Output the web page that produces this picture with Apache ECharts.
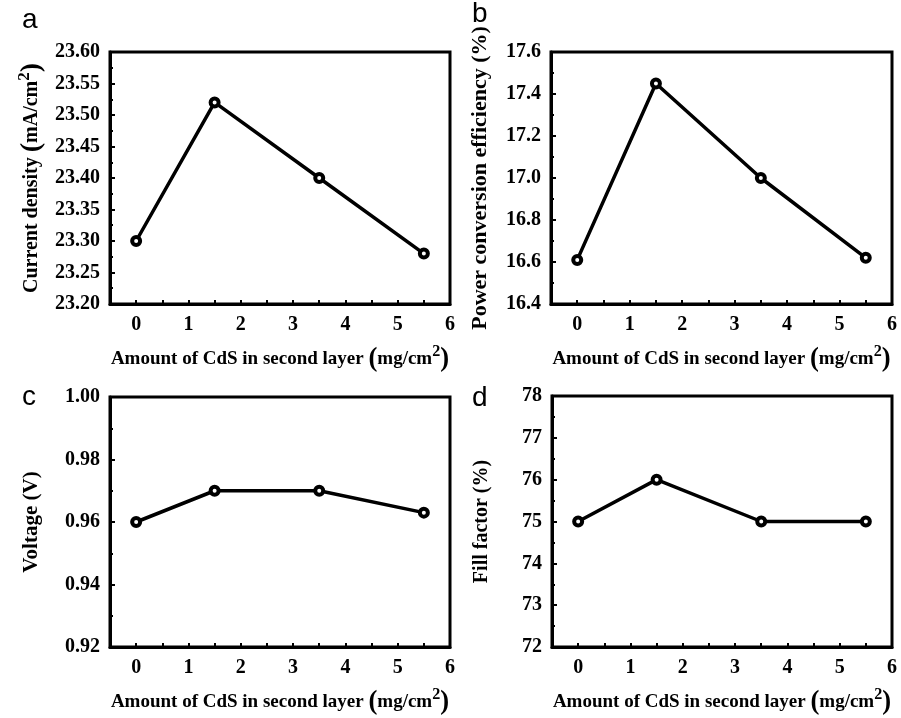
<!DOCTYPE html>
<html style="height: 100%">
<head>
<meta charset="utf-8">
<script src="https://cdn.jsdelivr.net/npm/echarts@6/dist/echarts.min.js"></script>
</head>
<body style="height: 100%; margin: 0; background: #fff">
<div id="container" style="width: 901px; height: 718px"></div>
<script type="text/javascript">
// amount of CdS in second layer (mg/cm2)
var amount = [0, 1.5, 3.5, 5.5];
var currentDensity = [23.30, 23.52, 23.40, 23.28];
var efficiency = [16.61, 17.45, 17.00, 16.62];
var voltage = [0.960, 0.970, 0.970, 0.963];
var fillFactor = [75, 76, 75, 75];

var serif = '"Liberation Serif", "Times New Roman", serif';

function pairs(ys) {
    return amount.map(function (x, i) { return [x, ys[i]]; });
}

var grids = [
    {left: 110, top: 52, width: 340, height: 252},
    {left: 551, top: 52, width: 341, height: 252},
    {left: 110, top: 397, width: 340, height: 250},
    {left: 552, top: 396, width: 340, height: 251}
];

function rich(size) {
    return {
        n: {fontFamily: serif, fontWeight: 'bold', fontSize: size, color: '#000'},
        p: {fontFamily: serif, fontWeight: 'bold', fontSize: size * 1.4, color: '#000'},
        s: {fontFamily: serif, fontWeight: 'bold', fontSize: size * 0.85, color: '#000', padding: [0, 0, size * 0.75, 0]}
    };
}

var xName = '{n|Amount of CdS in second layer }{p|(}{n|mg/cm}{s|2}{p|)}';

function xAxis(i) {
    return {
        type: 'value', gridIndex: i, min: -0.5, max: 6, interval: 0.5,
        name: xName, nameLocation: 'middle', nameGap: 40,
        nameTextStyle: {rich: rich(19)},
        axisLine: {onZero: false, lineStyle: {color: '#000', width: 3}},
        axisTick: {inside: true, length: 4, lineStyle: {color: '#000', width: 2}},
        axisLabel: {
            margin: 11, color: '#000', fontFamily: serif, fontWeight: 'bold', fontSize: 20,
            formatter: function (v) { return (v >= 0 && v % 1 === 0) ? String(v) : ''; }
        },
        splitLine: {show: false}
    };
}

function yAxis(i, min, max, step, digits, name, gap, size) {
    return {
        type: 'value', gridIndex: i, min: min, max: max, interval: step,
        name: name, nameLocation: 'middle', nameGap: gap, nameRotate: 90,
        nameTextStyle: {rich: rich(size)},
        axisLine: {onZero: false, lineStyle: {color: '#000', width: 3}},
        axisTick: {inside: true, length: 5, lineStyle: {color: '#000', width: 2}},
        minorTick: {show: true, splitNumber: 2, length: 3, lineStyle: {color: '#000', width: 2}},
        axisLabel: {
            margin: 10, color: '#000', fontFamily: serif, fontWeight: 'bold', fontSize: 20,
            formatter: function (v) { return v.toFixed(digits); }
        },
        splitLine: {show: false}
    };
}

function series(i, ys) {
    return {
        type: 'line', xAxisIndex: i, yAxisIndex: i, data: pairs(ys),
        symbol: 'circle', symbolSize: 8,
        itemStyle: {color: '#fff', borderColor: '#000', borderWidth: 4},
        lineStyle: {color: '#000', width: 3.5},
        silent: true, animation: false
    };
}

var letterStyle = {fontFamily: '"Liberation Sans", Arial, sans-serif', fontSize: 28, fill: '#000'};

var option = {
    animation: false,
    grid: grids.map(function (g) {
        return Object.assign({show: true, borderColor: '#000', borderWidth: 3, backgroundColor: 'transparent'}, g);
    }),
    xAxis: [xAxis(0), xAxis(1), xAxis(2), xAxis(3)],
    yAxis: [
        yAxis(0, 23.2, 23.6, 0.05, 2, '{n|Current density }{p|(}{n|mA/cm}{s|2}{p|)}', 62, 20),
        yAxis(1, 16.4, 17.6, 0.2, 1, '{n|Power conversion efficiency (%)}', 60, 22),
        yAxis(2, 0.92, 1.00, 0.02, 2, '{n|Voltage (V)}', 68, 21),
        yAxis(3, 72, 78, 1, 0, '{n|Fill factor (%)}', 60, 20)
    ],
    series: [
        series(0, currentDensity),
        series(1, efficiency),
        series(2, voltage),
        series(3, fillFactor)
    ],
    graphic: [
        {type: 'text', left: 22, top: 6, style: Object.assign({text: 'a'}, letterStyle)},
        {type: 'text', left: 472, top: 0, style: Object.assign({text: 'b'}, letterStyle)},
        {type: 'text', left: 22, top: 383, style: Object.assign({text: 'c'}, letterStyle)},
        {type: 'text', left: 472, top: 384, style: Object.assign({text: 'd'}, letterStyle)}
    ]
};

var myChart = echarts.init(document.getElementById('container'));
myChart.setOption(option);
</script>
</body>
</html>
